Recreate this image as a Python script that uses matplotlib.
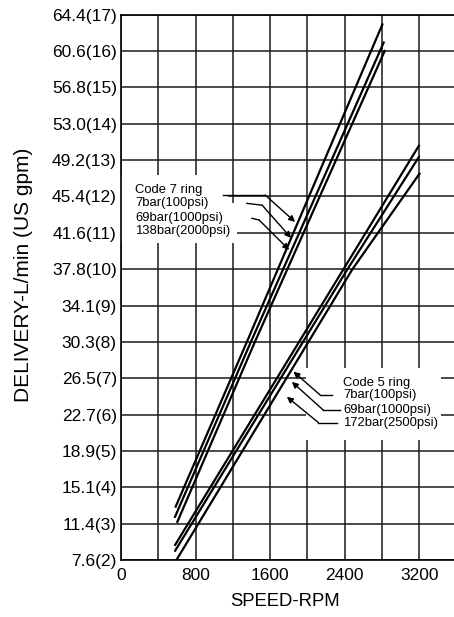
import numpy as np
import matplotlib
matplotlib.use('Agg')
import matplotlib.pyplot as plt
from matplotlib.patches import Polygon

plt.rcParams['font.family'] = ['Liberation Sans', 'DejaVu Sans']

# y ticks: US gpm with L/min label
gpm_ticks = list(range(2, 18))
ytick_labels = ['7.6(2)', '11.4(3)', '15.1(4)', '18.9(5)', '22.7(6)', '26.5(7)', '30.3(8)', '34.1(9)',
                '37.8(10)', '41.6(11)', '45.4(12)', '49.2(13)', '53.0(14)', '56.8(15)', '60.6(16)', '64.4(17)']
rpm_ticks = list(range(0, 3600, 400))
xtick_labels = ['0', '', '800', '', '1600', '', '2400', '', '3200']

# Code 7 ring lines (rpm, gpm)
c7_labels = ['7bar(100psi)', '69bar(1000psi)', '138bar(2000psi)']
c7_rpm = [[582, 1351, 2810], [575, 1394, 2824], [600, 1437, 2835]]
c7_gpm = [[3.44, 8.0, 16.76], [3.16, 8.0, 16.26], [3.02, 8.0, 16.03]]

# Code 5 ring lines
c5_labels = ['7bar(100psi)', '69bar(1000psi)', '172bar(2500psi)']
c5_rpm = [[575, 2388, 3203], [575, 2431, 3203], [590, 2484, 3210]]
c5_gpm = [[2.39, 10.0, 13.42], [2.23, 10.0, 13.11], [1.98, 10.0, 12.65]]

fig = plt.figure(figsize=(4.54, 6.17), dpi=100)
ax = fig.add_axes([121/454, 1-560/617, 1-121/454, (560-14.7)/617])

ax.set_xlim(0, 3574)
ax.set_ylim(2, 17)
ax.set_xticks(rpm_ticks)
ax.set_xticklabels(xtick_labels, fontsize=12.5)
ax.set_yticks(gpm_ticks)
ax.set_yticklabels(ytick_labels, fontsize=12.5)
ax.tick_params(length=0)
ax.tick_params(axis='x', pad=6)
ax.tick_params(axis='y', pad=3)
ax.grid(True, color='#1a1a1a', linewidth=1.1)
ax.set_axisbelow(True)
for s in ['left', 'bottom', 'top']:
    ax.spines[s].set_linewidth(1.2)
ax.spines['right'].set_visible(False)

# data lines
for r, g in zip(c7_rpm, c7_gpm):
    ax.plot(r, g, color='black', lw=1.6, zorder=3, solid_capstyle='butt')
for r, g in zip(c5_rpm, c5_gpm):
    ax.plot(r, g, color='black', lw=1.6, zorder=3, solid_capstyle='butt')

# white areas behind labels
ax.add_patch(Polygon([(0, 10.72), (1250, 10.72), (1250, 11.82), (1150, 11.82), (1150, 12.58), (0, 12.58)],
                     closed=True, facecolor='white', edgecolor='none', zorder=1.5))
ax.add_patch(Polygon([(1990, 5.3), (3430, 5.3), (3430, 7.28), (1990, 7.28)],
                     closed=True, facecolor='white', edgecolor='none', zorder=1.5))

# Code 7 labels
c7_text_y = [12.17, 11.81, 11.40, 11.04]
for t, y in zip(['Code 7 ring'] + c7_labels, c7_text_y):
    ax.text(155, y, t, fontsize=9.4, va='center', ha='left', zorder=4)

c7_lead = [[(1097, 12.04), (1547, 12.04), (1869, 11.30)],
           [(1351, 11.81), (1515, 11.76), (1826, 10.86)],
           [(1405, 11.40), (1483, 11.35), (1805, 10.53)]]
for p in c7_lead:
    ax.plot([p[0][0], p[1][0]], [p[0][1], p[1][1]], color='black', lw=1.0, zorder=4)
    ax.annotate('', xy=p[2], xytext=p[1],
                arrowprops=dict(arrowstyle='-|>', color='black', lw=1.0, mutation_scale=9,
                                shrinkA=0, shrinkB=0), zorder=4)

# Code 5 labels
c5_text_y = [6.87, 6.54, 6.13, 5.77]
for t, y in zip(['Code 5 ring'] + c5_labels, c5_text_y):
    ax.text(2383, y, t, fontsize=9.4, va='center', ha='left', zorder=4)

c5_lead = [[(2263, 6.54), (2137, 6.54), (1851, 7.18)],
           [(2352, 6.12), (2173, 6.12), (1834, 6.90)],
           [(2316, 5.78), (2119, 5.78), (1780, 6.49)]]
for p in c5_lead:
    ax.plot([p[0][0], p[1][0]], [p[0][1], p[1][1]], color='black', lw=1.0, zorder=4)
    ax.annotate('', xy=p[2], xytext=p[1],
                arrowprops=dict(arrowstyle='-|>', color='black', lw=1.0, mutation_scale=9,
                                shrinkA=0, shrinkB=0), zorder=4)

fig.text(24/454, 1-275/617, 'DELIVERY-L/min (US gpm)', rotation=90, fontsize=15,
         ha='center', va='center')
fig.text(285/454, 1-601/617, 'SPEED-RPM', fontsize=13.3, ha='center', va='center')

fig.savefig('out.png', dpi=100)
